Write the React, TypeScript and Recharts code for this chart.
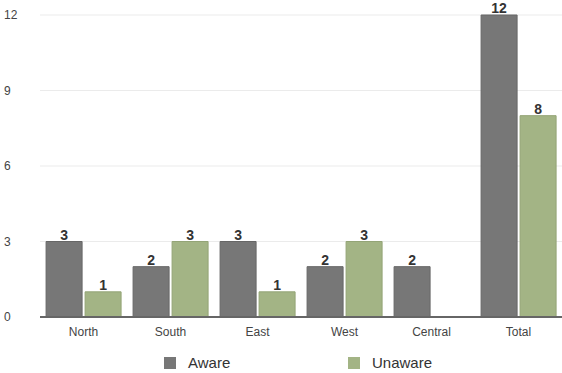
import { BarChart, Bar, XAxis, YAxis, CartesianGrid, Legend, LabelList } from 'recharts';

const regions = ['North', 'South', 'East', 'West', 'Central', 'Total'];
const aware = [3, 2, 3, 2, 2, 12];
const unaware: (number | null)[] = [1, 3, 1, 3, null, 8];
const yTicks = [0, 3, 6, 9, 12];

const data = regions.map((region, i) => ({ region, aware: aware[i], unaware: unaware[i] }));

const GRAY = '#777777';
const GREEN = '#a3b485';

function LegendBox() {
  const item = (color: string, label: string, left: number) => (
    <div style={{ position: 'absolute', left, top: 0, display: 'flex', alignItems: 'center' }}>
      <span style={{ width: 12, height: 12, background: color, display: 'inline-block', marginRight: 12 }} />
      <span style={{ fontSize: 15, color: '#333' }}>{label}</span>
    </div>
  );
  return (
    <div style={{ position: 'relative', height: 32, width: 562 }}>
      <div style={{ position: 'absolute', top: 13, left: 0 }}>
        {item(GRAY, 'Aware', 164)}
        {item(GREEN, 'Unaware', 348)}
      </div>
    </div>
  );
}

export default function App() {
  return (
    <div style={{ position: 'absolute', left: 0, top: 0, fontFamily: 'Liberation Sans, Arial, sans-serif' }}>
      <BarChart
        width={562}
        height={373}
        data={data}
        margin={{ top: 15, right: 0, left: 0, bottom: 0 }}
        barCategoryGap="7%"
        barGap={3}
      >
        <CartesianGrid vertical={false} stroke="#ebebeb" />
        <XAxis
          dataKey="region"
          height={24}
          tickLine={false}
          axisLine={{ stroke: '#666', strokeWidth: 2 }}
          tick={{ fontSize: 12, fill: '#444' }}
          tickMargin={4}
        />
        <YAxis
          width={40}
          domain={[0, 12]}
          ticks={yTicks}
          tickLine={false}
          axisLine={false}
          tick={{ fontSize: 12, fill: '#444', textAnchor: 'start' }}
          tickMargin={0}
          dx={-30}
        />
        <Legend verticalAlign="bottom" height={32} content={() => <LegendBox />} />
        <Bar dataKey="aware" fill={GRAY} stroke="#666" isAnimationActive={false}>
          <LabelList dataKey="aware" position="top" offset={2} style={{ fontSize: 14, fill: '#333', fontWeight: 600 }} />
        </Bar>
        <Bar dataKey="unaware" fill={GREEN} stroke="#93a476" isAnimationActive={false}>
          <LabelList dataKey="unaware" position="top" offset={2} style={{ fontSize: 14, fill: '#333', fontWeight: 600 }} />
        </Bar>
      </BarChart>
    </div>
  );
}
